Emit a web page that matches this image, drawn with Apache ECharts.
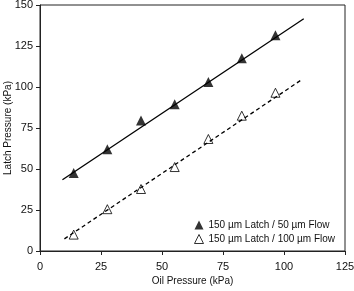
<!DOCTYPE html>
<html><head><meta charset="utf-8">
<script src="https://cdn.jsdelivr.net/npm/echarts@6/dist/echarts.min.js"></script>
<style>html,body{margin:0;padding:0;background:#fff}#c{width:354px;height:291px}</style>
</head><body><div id="c"></div>
<script>
const oilPressure = [13.8, 27.6, 41.4, 55.2, 69.0, 82.7, 96.5];
const latch50 = [47.5, 62, 79.5, 89.5, 103, 117.5, 131.5];
const latch100 = [10, 25.5, 37.8, 51.2, 68.3, 82.5, 96.5];
const trend50 = [[9.2, 43.4], [108.1, 141.6]];
const trend100 = [[10, 7.4], [107.6, 104.8]];
const xTicks = [0, 25, 50, 75, 100, 125];
const yTicks = [0, 25, 50, 75, 100, 125, 150];
const names = ['150 \u00b5m Latch / 50 \u00b5m Flow', '150 \u00b5m Latch / 100 \u00b5m Flow'];

const font = 'Liberation Sans, Arial, sans-serif';
const chart = echarts.init(document.getElementById('c'));
chart.setOption({
  animation: false,
  backgroundColor: '#fff',
  grid: {left: 40, right: 9, top: 5, bottom: 40, show: true, borderColor: '#222', borderWidth: 1,
         containLabel: false, outerBoundsMode: 'none'},
  xAxis: {
    type: 'value', min: 0, max: 125, interval: 25,
    name: 'Oil Pressure (kPa)', nameLocation: 'middle', nameGap: 25, nameMoveOverlap: false,
    nameTextStyle: {fontFamily: font, fontSize: 10, color: '#111'},
    axisLine: {lineStyle: {color: '#222'}},
    axisTick: {show: true, length: 4, lineStyle: {color: '#222'}},
    axisLabel: {fontFamily: font, fontSize: 11, color: '#111', margin: 10},
    splitLine: {show: false}
  },
  yAxis: {
    type: 'value', min: 0, max: 150, interval: 25,
    name: 'Latch Pressure (kPa)', nameLocation: 'middle', nameGap: 27, nameMoveOverlap: false,
    nameTextStyle: {fontFamily: font, fontSize: 10, color: '#111'},
    axisLine: {show: true, lineStyle: {color: '#222'}},
    axisTick: {show: true, length: 4, lineStyle: {color: '#222'}},
    axisLabel: {fontFamily: font, fontSize: 11, color: '#111', margin: 7},
    splitLine: {show: false}
  },
  legend: {
    orient: 'vertical', left: 189, top: 215, itemGap: 4,
    itemWidth: 9, itemHeight: 9,
    itemStyle: {borderWidth: 1},
    textStyle: {fontFamily: font, fontSize: 10, color: '#111'},
    data: names
  },
  series: [
    {type: 'line', data: trend50, symbol: 'none', lineStyle: {color: '#000', width: 1.3}, silent: true},
    {type: 'line', data: trend100, symbol: 'none', lineStyle: {color: '#000', width: 1.3, type: [4, 3]}, silent: true},
    {name: names[0], type: 'scatter', symbol: 'triangle', symbolSize: [10, 10],
     itemStyle: {color: '#000'},
     data: oilPressure.map((x, i) => [x, latch50[i]])},
    {name: names[1], type: 'scatter', symbol: 'triangle', symbolSize: [9, 9],
     itemStyle: {color: '#fff', borderColor: '#000', borderWidth: 1},
     data: oilPressure.map((x, i) => [x, latch100[i]])}
  ]
});
</script></body></html>
